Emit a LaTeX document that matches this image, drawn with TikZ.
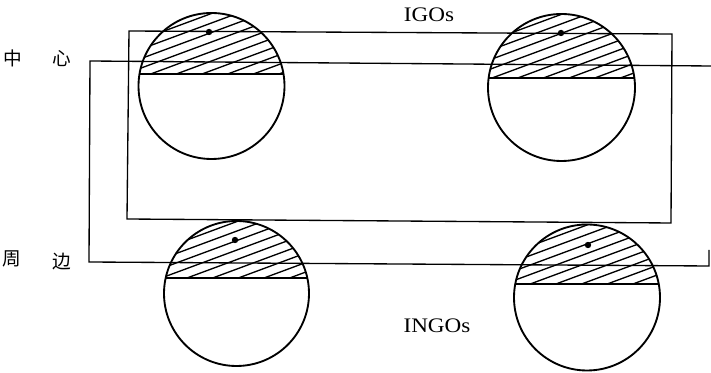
\documentclass[tikz,border=0pt]{standalone}
\usepackage{fontspec}
\usepackage{graphicx}
\setmainfont{Liberation Serif}
\newfontfamily\cjk{Noto Sans CJK SC}
\tikzset{
  globe/.style={line width=1.4pt},
  frame/.style={line width=1pt},
  hatch/.style={line width=1pt},
  cjklabel/.style={inner sep=0pt,font=\cjk\fontsize{14}{15}\selectfont},
  orglabel/.style={inner sep=0pt,anchor=base,font=\fontsize{15.5}{16}\selectfont},
}
\begin{document}
\begin{tikzpicture}[x=0.75pt,y=0.75pt,yscale=-1,xscale=1]
\useasboundingbox (0,0) rectangle (711,373);
% frames
\draw [frame] (129,31) -- (672,34) -- (671,223) -- (127,219) -- cycle ;
\draw [frame] (711,66) -- (90,61) -- (89,262) -- (709,266) -- (709,250) ;
% globes: centre, radius, chord, dot
\foreach \cx/\cy/\r/\ch/\dx/\dy in {211.5/86/73/74/209/32, 561.5/87.5/73.5/78/561/33, 236.5/293.5/72.5/278/235/240, 587/297.5/73/284/588/245}{
  \pgfmathsetmacro\hw{sqrt(\r*\r-(\cy-\ch)*(\cy-\ch))}
  \begin{scope}
    \clip (\cx,\cy) circle (\r) ;
    \clip (\cx-\r,\cy-\r) rectangle (\cx+\r,\ch) ;
    \foreach \k in {0,...,11}
      \draw [hatch] (\cx-\r,\cy-\r+18+\k*9.5) -- ++(2*\r,-0.74*\r) ;
  \end{scope}
  \draw [globe] (\cx,\cy) circle (\r) ;
  \draw [globe] (\cx-\hw,\ch) -- (\cx+\hw,\ch) ;
  \fill (\dx,\dy) circle (3.2) ;
}
% labels
\node [cjklabel] (zhong) at (13,58) {中};
\node [cjklabel] (xin) at (62,59) {心};
\node [cjklabel] (zhou) at (12,259) {周};
\node [cjklabel] (bian) at (62,262) {边};
\node [orglabel] (igos) at (429,22) {\scalebox{1.12}[1]{IGOs}};
\node [orglabel] (ingos) at (437,333) {\scalebox{1.12}[1]{INGOs}};
\end{tikzpicture}
\end{document}
